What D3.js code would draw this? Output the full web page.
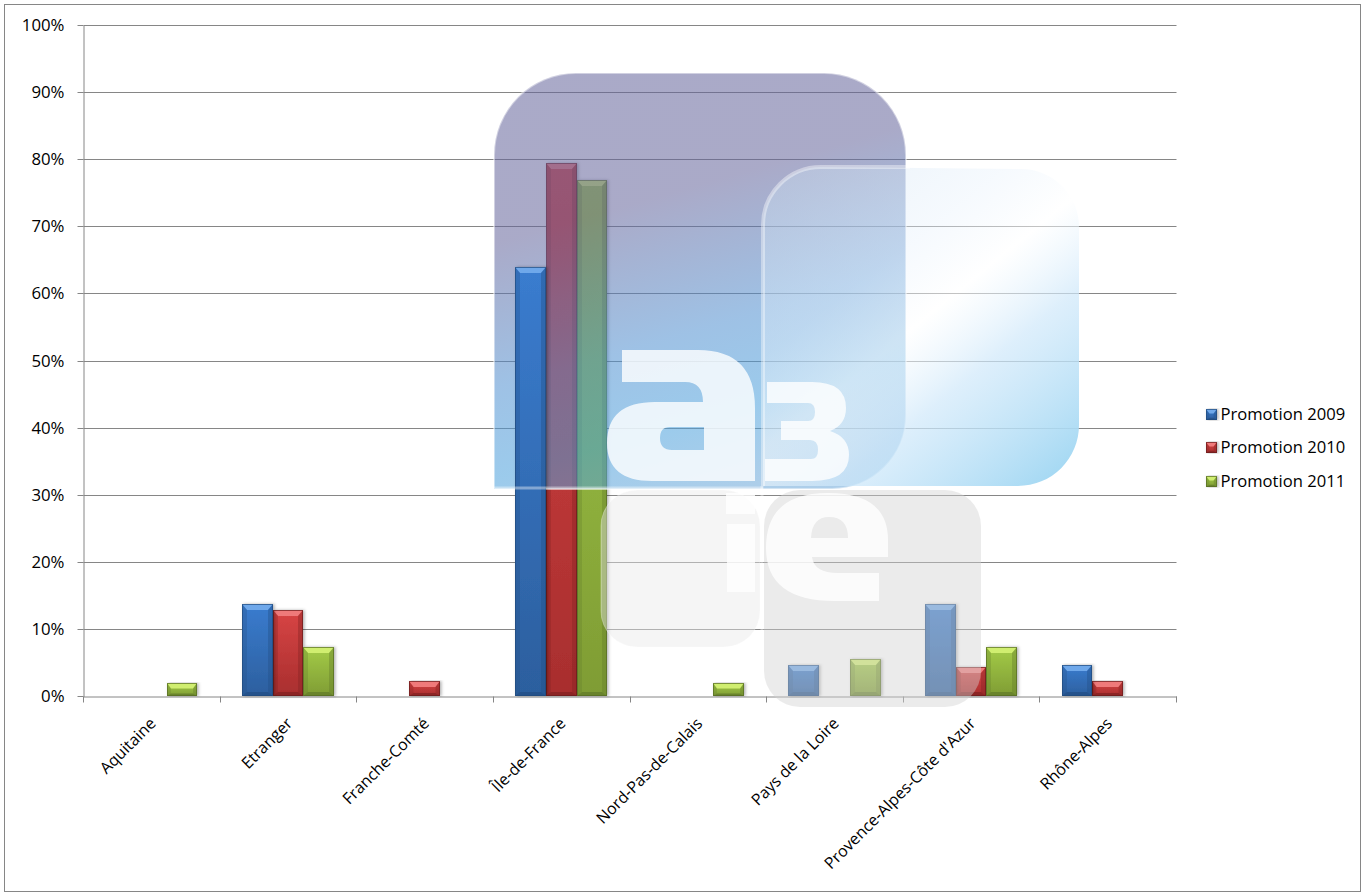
<!DOCTYPE html>
<html><head><meta charset="utf-8">
<script src="https://cdn.jsdelivr.net/npm/d3@7"></script>
<style>html,body{margin:0;padding:0;background:#fff}svg{display:block}text{font-family:"Open Sans",sans-serif;fill:#000}</style>
</head><body><svg id="c" width="1365" height="896"></svg>
<script>
const categories = ["Aquitaine","Etranger","Franche-Comté","Île-de-France","Nord-Pas-de-Calais","Pays de la Loire","Provence-Alpes-Côte d'Azur","Rhône-Alpes"];
const seriesNames = ["Promotion 2009","Promotion 2010","Promotion 2011"];
const promo2009 = [0,13.7,0,63.8,0,4.6,13.7,4.6];
const promo2010 = [0,12.7,2.1,79.3,0,0,4.3,2.1];
const promo2011 = [1.9,7.3,0,76.9,1.9,5.5,7.3,0];
const seriesValues = [promo2009,promo2010,promo2011];
const yTicks = [0,10,20,30,40,50,60,70,80,90,100];
const palette = [
 {top:"#3a7ccf",bot:"#2c5f9e",light:"#6fa8ea",edge:"#214a7c",dark:"#234f86"},
 {top:"#d84545",bot:"#a82e2e",light:"#ef7a7a",edge:"#6a1c1c",dark:"#842222"},
 {top:"#a4cc48",bot:"#7f9c34",light:"#d0ee70",edge:"#566b24",dark:"#647d2a"}
];
const svg = d3.select("#c");
const defs = svg.append("defs");
const L=83.5,R=1176.5,T=25.5,B=696.5;
const y = d3.scaleLinear().domain([0,100]).range([B,T]);
const x = d3.scaleBand().domain(categories).range([L,R]).paddingInner(0).paddingOuter(0);
const inner = d3.scaleBand().domain(d3.range(3)).range([0,x.bandwidth()]).paddingOuter(0.72).paddingInner(0);
const grey="#868686";
const labelFont='"Open Sans",sans-serif';
const crisp=v=>Math.floor(v)+.5;

svg.append("rect").attr("x",4.5).attr("y",4.5).attr("width",1356).attr("height",887).attr("fill","#fff").attr("stroke",grey);

// gridlines
svg.append("g").selectAll("line").data(yTicks.filter(d=>d>0)).join("line")
 .attr("x1",L).attr("x2",R).attr("y1",d=>crisp(y(d))).attr("y2",d=>crisp(y(d))).attr("stroke",grey);

// axes
const ya = svg.append("g").attr("transform",`translate(${L},0)`)
 .call(d3.axisLeft(y).tickValues(yTicks).tickFormat(d=>d+"%").tickSize(6).tickPadding(13).tickSizeOuter(0));
ya.selectAll(".tick").attr("transform",d=>`translate(0,${crisp(y(d))})`);
ya.selectAll("path,line").attr("stroke",grey);
ya.selectAll("text").attr("font-size",16.8).style("font-family",labelFont).attr("fill","#000");
const edges = d3.scaleLinear().domain([0,categories.length]).range([L,R]);
const xe = svg.append("g").attr("transform",`translate(0,${B})`)
 .call(d3.axisBottom(edges).tickValues(d3.range(categories.length+1)).tickFormat("").tickSize(6).tickSizeOuter(0));
xe.selectAll(".tick").attr("transform",d=>`translate(${crisp(edges(d))},0)`);
xe.selectAll("path,line").attr("stroke",grey);
const xl = svg.append("g").attr("transform",`translate(0,${B})`)
 .call(d3.axisBottom(x).tickSize(0).tickPadding(0));
xl.select("path").remove();
xl.selectAll("text").attr("font-size",16).style("font-family",labelFont).attr("fill","#000")
 .attr("text-anchor","end").attr("dy",0).attr("y",0)
 .attr("transform","translate(5,28) rotate(-45)");

// gradients
palette.forEach((p,i)=>{
 const g=defs.append("linearGradient").attr("id","bar"+i).attr("x1",0).attr("y1",0).attr("x2",0).attr("y2",1);
 g.append("stop").attr("offset",0).attr("stop-color",p.top);
 g.append("stop").attr("offset",1).attr("stop-color",p.bot);
});
const f=defs.append("filter").attr("id","sh").attr("x","-20%").attr("y","-5%").attr("width","140%").attr("height","110%");
f.append("feDropShadow").attr("dx",1.5).attr("dy",0).attr("stdDeviation",1.5).attr("flood-color","#000").attr("flood-opacity",.3);

function bevelBar(g,x0,x1,y0,y1,p,i){
 const h=y1-y0, bt=Math.min(6,h*0.42), bs=Math.min(5,h*0.3), bb=Math.min(4,h*0.2);
 g.append("rect").attr("x",x0).attr("y",y0).attr("width",x1-x0).attr("height",h).attr("fill",`url(#bar${i})`).attr("filter","url(#sh)");
 const poly=(pts,fill,op)=>g.append("polygon").attr("points",pts.map(q=>q.join(",")).join(" ")).attr("fill",fill).attr("opacity",op);
 poly([[x0,y0],[x1,y0],[x1-bs,y0+bt],[x0+bs,y0+bt]],p.light,1);
 poly([[x0,y0],[x0+bs,y0+bt],[x0+bs,y1-bb],[x0,y1]],p.dark,.3);
 poly([[x1,y0],[x1-bs,y0+bt],[x1-bs,y1-bb],[x1,y1]],p.dark,.4);
 poly([[x0,y1],[x0+bs,y1-bb],[x1-bs,y1-bb],[x1,y1]],p.dark,.8);
 g.append("rect").attr("x",x0+.5).attr("y",y0+.5).attr("width",x1-x0-1).attr("height",h-1).attr("fill","none").attr("stroke",p.edge).attr("stroke-opacity",.7);
}
function drawSeries(parent,i){
 seriesValues[i].forEach((v,k)=>{
  if(!v) return;
  const x0=x(categories[k])+inner(i), x1=x0+inner.bandwidth();
  bevelBar(parent.append("g"),Math.floor(x0),Math.floor(x1),Math.round(y(v))-1,Math.floor(y(0)),palette[i],i);
 });
}
const barsG=svg.append("g");
drawSeries(barsG,1);
drawSeries(barsG,2);

// legend
const lg=svg.append("g");
const legendY=[414,447.5,481];
seriesNames.forEach((n,i)=>{
 const ly=legendY[i], s=10;
 bevelBar(lg.append("g"),1206,1206+s+1,Math.floor(ly)-5,Math.floor(ly)+6,palette[i],i);
 lg.append("text").attr("x",1220.5).attr("y",ly+5.5).attr("font-size",16.6).text(n);
});

// watermark logo (decoration over the plot)
const grad=(id,a,stops)=>{const g=defs.append("linearGradient").attr("id",id).attr("gradientUnits","userSpaceOnUse")
 .attr("x1",a[0]).attr("y1",a[1]).attr("x2",a[2]).attr("y2",a[3]);
 stops.forEach(s=>g.append("stop").attr("offset",s[0]).attr("stop-color",s[1]).attr("stop-opacity",s[2]));};
grad("gp",[620,72,740,489],[[0,"#64649b",.55],[.3,"#64649b",.55],[.62,"#4f8fd0",.55],[.82,"#4aa0dc",.55],[1,"#6aa6d8",.55]]);
grad("gb",[800,170,1060,490],[[0,"#cde1f2",.4],[.3,"#e8f2fc",.42],[.47,"#ffffff",.5],[.65,"#cfe8fa",.7],[1,"#9ed6f2",1]]);
const wm=svg.append("g");
const rr=(x0,y0,x1,y1,r,fill,st,sw,so)=>wm.append("rect").attr("x",x0).attr("y",y0).attr("width",x1-x0).attr("height",y1-y0).attr("rx",r).attr("ry",r)
 .attr("fill",fill).attr("stroke",st||"none").attr("stroke-width",sw||0).attr("stroke-opacity",so||1);
wm.append("path").attr("d","M494 489 L494 155 A82 82 0 0 1 576 73 L824 73 A82 82 0 0 1 906 155 L906 415 A74 74 0 0 1 832 489 Z")
 .attr("fill","url(#gp)").attr("stroke","#fff").attr("stroke-opacity",.45).attr("stroke-width",2);
// the blue series stays saturated above the purple panel in the reference
const blueG=wm.append("g");
drawSeries(blueG,0);
rr(601,490,760,647,36,"rgba(232,232,232,.44)","#fff",1,.3);
rr(764,490,981,707,36,"rgba(210,210,210,.44)");
wm.append("path").attr("d","M763 486 L763 225 A58 58 0 0 1 821 167 L1021 169 A58 58 0 0 1 1079 227 L1079 425 A61 61 0 0 1 1018 486 Z")
 .attr("fill","url(#gb)");
wm.append("path").attr("d","M763 486 L763 225 A58 58 0 0 1 821 167 L910 167").attr("fill","none").attr("stroke","#fff").attr("stroke-opacity",.4).attr("stroke-width",4);
wm.append("line").attr("x1",494).attr("x2",763).attr("y1",488).attr("y2",488).attr("stroke","#fff").attr("stroke-opacity",.4).attr("stroke-width",3);
wm.append("line").attr("x1",762).attr("x2",762).attr("y1",486).attr("y2",640).attr("stroke","#fff").attr("stroke-opacity",.4).attr("stroke-width",3);
const letters=[
 "M622 350 L698 350 Q755 350 755 408 L755 481 L652 481 Q607 481 607 443 Q607 402 655 402 L703 402 Q703 382 685 382 L622 382 Z M670 427 Q660 427 660 438 Q660 450 672 450 L704 450 L704 427 Z",
 "M767 382 L812 382 Q846 382 846 408 Q846 425 830 431 Q849 437 849 455 Q849 481 812 481 L765 481 L765 459 L811 459 Q818 459 818 450 Q818 440 810 440 L781 440 L781 421 L808 421 Q815 421 815 412 Q815 403 808 403 L767 403 Z",
 "M726 493 L755 493 L755 514 L726 514 Z M727 524 L755 524 L755 592 L727 592 Z",
 "M828 493 Q888 493 888 540 L888 557 L812 557 Q814 573 838 573 L879 573 L879 601 L835 601 Q766 601 766 548 Q766 493 828 493 Z M811 538 L848 538 Q848 517 829 517 Q812 517 811 538 Z"
];
wm.append("g").selectAll("path").data(letters).join("path").attr("d",d=>d).attr("fill","#fff").attr("fill-opacity",.8).attr("fill-rule","evenodd");
</script></body></html>
